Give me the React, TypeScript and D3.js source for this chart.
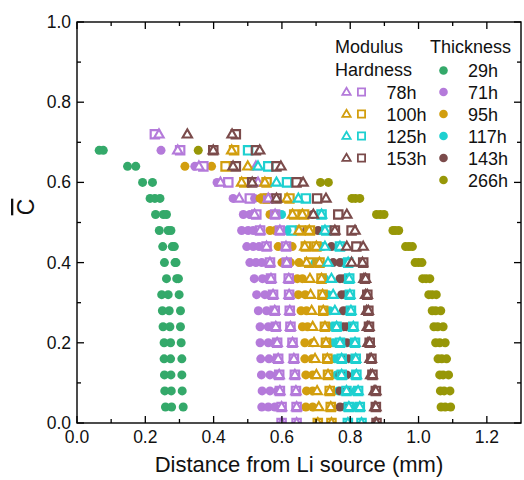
import React from "react";
import * as d3 from "d3";

type Row = [number, number[]];

// Thickness series (filled circles): [C, distances (mm)]
const thick29h: Row[] = [
  [0.68, [0.065, 0.077]], [0.64, [0.148, 0.172]], [0.6, [0.192, 0.221]],
  [0.56, [0.214, 0.228, 0.243]], [0.52, [0.23, 0.253, 0.262]], [0.48, [0.241, 0.267, 0.275]],
  [0.44, [0.251, 0.279, 0.285]], [0.4, [0.256, 0.287, 0.29]], [0.36, [0.262, 0.292, 0.297]],
  [0.32, [0.248, 0.267, 0.299]], [0.28, [0.25, 0.27, 0.303]], [0.24, [0.252, 0.272, 0.303]],
  [0.2, [0.255, 0.274, 0.305]], [0.16, [0.255, 0.274, 0.307]], [0.12, [0.256, 0.275, 0.307]],
  [0.08, [0.257, 0.276, 0.308]], [0.04, [0.259, 0.277, 0.311]],
];
const thick71h: Row[] = [
  [0.68, [0.246]], [0.64, [0.345]], [0.6, [0.41]], [0.56, [0.457, 0.52]],
  [0.52, [0.487, 0.506]], [0.48, [0.482, 0.501, 0.516]], [0.44, [0.497, 0.516, 0.533]],
  [0.4, [0.506, 0.524, 0.541]], [0.36, [0.519, 0.543, 0.56]], [0.32, [0.526, 0.55, 0.57]],
  [0.28, [0.531, 0.555, 0.575]], [0.24, [0.536, 0.56, 0.578]], [0.2, [0.536, 0.56, 0.58]],
  [0.16, [0.538, 0.562, 0.583]], [0.12, [0.54, 0.565, 0.585]], [0.08, [0.542, 0.565, 0.587]],
  [0.04, [0.541, 0.56, 0.579]],
];
const thick95h: Row[] = [
  [0.64, [0.316, 0.394]], [0.56, [0.536, 0.552]], [0.52, [0.565, 0.585]], [0.48, [0.565, 0.58]],
  [0.44, [0.589, 0.63]], [0.4, [0.6, 0.625, 0.65]], [0.36, [0.645, 0.66]], [0.32, [0.648, 0.668]],
  [0.28, [0.656, 0.672]], [0.24, [0.66, 0.675]], [0.2, [0.667, 0.69]], [0.16, [0.667, 0.688]],
  [0.12, [0.67, 0.69]], [0.08, [0.672, 0.69]], [0.04, [0.67, 0.69]],
];
const thick117h: Row[] = [
  [0.52, [0.599]], [0.48, [0.615]], [0.44, [0.72]], [0.4, [0.697, 0.78]], [0.36, [0.725, 0.79]],
  [0.32, [0.735, 0.79]], [0.28, [0.74, 0.795]], [0.24, [0.745, 0.8]], [0.2, [0.75, 0.805]],
  [0.16, [0.755, 0.81]], [0.12, [0.76, 0.812]], [0.08, [0.765, 0.815]], [0.04, [0.79, 0.815]],
];
const thick143h: Row[] = [
  [0.52, [0.69]], [0.48, [0.672, 0.706]], [0.44, [0.745]], [0.4, [0.75, 0.77]], [0.36, [0.77, 0.78]],
  [0.32, [0.775, 0.785]], [0.28, [0.78, 0.79]], [0.24, [0.78, 0.79]], [0.2, [0.78, 0.79]],
  [0.16, [0.78, 0.795]], [0.12, [0.77, 0.79]], [0.08, [0.77, 0.79]], [0.04, [0.77, 0.785]],
];
const thick266h: Row[] = [
  [0.68, [0.355]], [0.6, [0.713, 0.736]], [0.56, [0.805, 0.815, 0.828]], [0.52, [0.877, 0.888, 0.899]],
  [0.48, [0.925, 0.932, 0.942]], [0.44, [0.962, 0.972, 0.982]], [0.4, [0.99, 1.0, 1.01]],
  [0.36, [1.012, 1.022, 1.033]], [0.32, [1.03, 1.04, 1.052]], [0.28, [1.04, 1.05, 1.065]],
  [0.24, [1.045, 1.056, 1.072]], [0.2, [1.05, 1.062, 1.078]], [0.16, [1.057, 1.068, 1.082]],
  [0.12, [1.062, 1.072, 1.088]], [0.08, [1.064, 1.075, 1.092]], [0.04, [1.066, 1.078, 1.094]],
];

// Modulus (open triangles) and Hardness (open squares)
const mod78h: Row[] = [
  [0.72, [0.24]], [0.68, [0.295]], [0.64, [0.357, 0.524]], [0.6, [0.42, 0.53]], [0.56, [0.475, 0.56]],
  [0.52, [0.52, 0.58]], [0.48, [0.536, 0.594]], [0.44, [0.555, 0.612]], [0.4, [0.565, 0.614]],
  [0.36, [0.568, 0.62]], [0.32, [0.574, 0.621]], [0.28, [0.579, 0.623]], [0.24, [0.582, 0.625]],
  [0.2, [0.586, 0.631]], [0.16, [0.589, 0.635]], [0.12, [0.592, 0.638]], [0.08, [0.594, 0.641]],
  [0.04, [0.599, 0.643]], [0.0, [0.599, 0.643]],
];
const hard78h: Row[] = [
  [0.72, [0.228]], [0.68, [0.302]], [0.64, [0.37]], [0.6, [0.443]], [0.56, [0.506, 0.56]],
  [0.52, [0.525, 0.58]], [0.48, [0.536, 0.594]], [0.44, [0.555, 0.612]], [0.4, [0.565, 0.614]],
  [0.36, [0.568, 0.62]], [0.32, [0.574, 0.621]], [0.28, [0.579, 0.623]], [0.24, [0.582, 0.625]],
  [0.2, [0.586, 0.631]], [0.16, [0.589, 0.635]], [0.12, [0.592, 0.638]], [0.08, [0.594, 0.641]],
  [0.04, [0.599, 0.643]], [0.0, [0.599, 0.643]],
];
const mod100h: Row[] = [
  [0.68, [0.453]], [0.64, [0.5]], [0.6, [0.482, 0.55]], [0.56, [0.615]], [0.52, [0.631, 0.66]],
  [0.48, [0.65, 0.68]], [0.44, [0.667, 0.701]], [0.4, [0.672, 0.71]], [0.36, [0.682, 0.716]],
  [0.32, [0.684, 0.719]], [0.28, [0.687, 0.721]], [0.24, [0.69, 0.726]], [0.2, [0.694, 0.729]],
  [0.16, [0.697, 0.733]], [0.12, [0.701, 0.735]], [0.08, [0.703, 0.74]], [0.04, [0.708, 0.743]],
  [0.0, [0.705, 0.745]],
];
const hard100h: Row[] = [
  [0.68, [0.46]], [0.64, [0.435]], [0.6, [0.49, 0.555]], [0.56, [0.55, 0.622]], [0.52, [0.636, 0.665]],
  [0.48, [0.655, 0.682]], [0.44, [0.67, 0.701]], [0.4, [0.68, 0.71]], [0.36, [0.716]], [0.32, [0.719]],
  [0.28, [0.721]], [0.24, [0.726]], [0.2, [0.729]], [0.16, [0.733]], [0.12, [0.735]], [0.08, [0.74]],
  [0.04, [0.743]], [0.0, [0.705, 0.745]],
];
const mod125h: Row[] = [
  [0.64, [0.53]], [0.6, [0.584]], [0.56, [0.648]], [0.52, [0.716]], [0.48, [0.726]], [0.44, [0.726, 0.77]],
  [0.4, [0.735, 0.794]], [0.36, [0.745, 0.797]], [0.32, [0.75, 0.799]], [0.28, [0.755, 0.802]],
  [0.24, [0.76, 0.809]], [0.2, [0.77, 0.814]], [0.16, [0.775, 0.816]], [0.12, [0.775, 0.818]],
  [0.08, [0.789, 0.823]], [0.04, [0.796, 0.828]], [0.0, [0.793, 0.833]],
];
const hard125h: Row[] = [
  [0.68, [0.501]], [0.64, [0.56]], [0.6, [0.615]], [0.56, [0.67]], [0.52, [0.716]], [0.48, [0.628, 0.73]],
  [0.44, [0.77]], [0.4, [0.794]], [0.36, [0.797]], [0.32, [0.799]], [0.28, [0.802]], [0.24, [0.76, 0.809]],
  [0.2, [0.77, 0.814]], [0.16, [0.775, 0.816]], [0.12, [0.775, 0.818]], [0.08, [0.789, 0.823]],
  [0.04, [0.796, 0.828]], [0.0, [0.793, 0.833]],
];
const mod153h: Row[] = [
  [0.72, [0.323, 0.454]], [0.68, [0.399, 0.535]], [0.64, [0.457, 0.597]], [0.6, [0.513, 0.662]],
  [0.56, [0.584, 0.729]], [0.52, [0.692, 0.79]], [0.48, [0.755, 0.814]], [0.44, [0.79, 0.838]],
  [0.4, [0.804, 0.836]], [0.36, [0.84, 0.845]], [0.32, [0.845, 0.85]], [0.28, [0.848, 0.853]],
  [0.24, [0.85, 0.855]], [0.2, [0.852, 0.857]], [0.16, [0.858, 0.862]], [0.12, [0.86, 0.865]],
  [0.08, [0.87, 0.875]], [0.04, [0.872, 0.875]], [0.0, [0.873, 0.877]],
];
const hard153h: Row[] = [
  [0.72, [0.465]], [0.68, [0.399, 0.524]], [0.64, [0.465, 0.584]], [0.6, [0.513, 0.643]],
  [0.56, [0.584, 0.703]], [0.52, [0.765]], [0.48, [0.755, 0.804]], [0.44, [0.818]], [0.4, [0.838]],
  [0.36, [0.843]], [0.32, [0.85]], [0.28, [0.853]], [0.24, [0.855]], [0.2, [0.857]], [0.16, [0.862]],
  [0.12, [0.865]], [0.08, [0.875]], [0.04, [0.875]], [0.0, [0.877]],
];

const thicknessLabels = ["29h", "71h", "95h", "117h", "143h", "266h"];
const thicknessColors = ["#34a96a", "#b47ada", "#d29e0e", "#1ed0d0", "#7b4b4b", "#979707"];
const thicknessData = [thick29h, thick71h, thick95h, thick117h, thick143h, thick266h];

const mhLabels = ["78h", "100h", "125h", "153h"];
const mhColors = ["#b47ada", "#d29e0e", "#1ed0d0", "#7b4b4b"];
const modulusData = [mod78h, mod100h, mod125h, mod153h];
const hardnessData = [hard78h, hard100h, hard125h, hard153h];

const xTicks = [0, 0.2, 0.4, 0.6, 0.8, 1.0, 1.2];
const yTicks = [0, 0.2, 0.4, 0.6, 0.8, 1.0];

const W = 524;
const H = 480;
const FONT = "'Liberation Sans', Arial, Helvetica, sans-serif";

const x = d3.scaleLinear().domain([0, 1.3]).range([77, 521]);
const y = d3.scaleLinear().domain([0, 1]).range([423, 22]);

const triPath = d3.symbol(d3.symbolTriangle, 38)()!;
const sqPath = d3.symbol(d3.symbolSquare, 70)()!;
const triLeg = d3.symbol(d3.symbolTriangle, 30)()!;
const sqLeg = d3.symbol(d3.symbolSquare, 52)()!;

function flatten(rows: Row[]) {
  const pts: { d: number; c: number }[] = [];
  rows.forEach(([c, ds]) => ds.forEach((d) => pts.push({ d, c })));
  return pts;
}

export default function App() {
  const [x0, x1] = x.range();
  const [y0, y1] = y.range();
  const xMinor = d3.range(1, 13).map((i) => i / 10);
  const yMinor = d3.range(1, 10).map((i) => i / 10);
  const fmt = d3.format(".1f");
  const legRows = [70.5, 92, 114, 136, 158, 180];

  return (
    <svg width={W} height={H} style={{ position: "absolute", left: 0, top: 0, background: "#fff" }}
      fontFamily={FONT}>
      <defs>
        <clipPath id="plotclip">
          <rect x={x0} y={y1} width={x1 - x0} height={y0 - y1} />
        </clipPath>
      </defs>

      <g clipPath="url(#plotclip)">
        {thicknessData.map((rows, si) => (
          <g key={"t" + si} fill={thicknessColors[si]}>
            {flatten(rows).map((p, i) => (
              <circle key={i} cx={x(p.d)} cy={y(p.c)} r={4.5} />
            ))}
          </g>
        ))}
        {hardnessData.map((rows, si) => (
          <g key={"h" + si} fill="none" stroke={mhColors[si]} strokeWidth={2.2}>
            {flatten(rows).map((p, i) => (
              <path key={i} d={sqPath} transform={`translate(${x(p.d)},${y(p.c)})`} />
            ))}
          </g>
        ))}
        {modulusData.map((rows, si) => (
          <g key={"m" + si} fill="#fff" stroke={mhColors[si]} strokeWidth={2.1}>
            {flatten(rows).map((p, i) => (
              <path key={i} d={triPath} transform={`translate(${x(p.d)},${y(p.c) + 0.5})`} />
            ))}
          </g>
        ))}
      </g>

      {/* frame */}
      <rect x={x0} y={y1} width={x1 - x0} height={y0 - y1} fill="none" stroke="#000" strokeWidth={1.4} />

      {/* ticks */}
      <g stroke="#000" strokeWidth={1.3}>
        {xTicks.map((t) => (
          <g key={"xt" + t}>
            <line x1={x(t)} x2={x(t)} y1={y0} y2={y0 - 7} />
            <line x1={x(t)} x2={x(t)} y1={y1} y2={y1 + 7} />
          </g>
        ))}
        {xMinor.filter((t) => Math.round(t * 10) % 2 === 1).map((t) => (
          <g key={"xm" + t}>
            <line x1={x(t)} x2={x(t)} y1={y0} y2={y0 - 4} />
            <line x1={x(t)} x2={x(t)} y1={y1} y2={y1 + 4} />
          </g>
        ))}
        {yTicks.map((t) => (
          <g key={"yt" + t}>
            <line x1={x0} x2={x0 + 7} y1={y(t)} y2={y(t)} />
            <line x1={x1} x2={x1 - 7} y1={y(t)} y2={y(t)} />
          </g>
        ))}
        {yMinor.filter((t) => Math.round(t * 10) % 2 === 1).map((t) => (
          <g key={"ym" + t}>
            <line x1={x0} x2={x0 + 4} y1={y(t)} y2={y(t)} />
            <line x1={x1} x2={x1 - 4} y1={y(t)} y2={y(t)} />
          </g>
        ))}
      </g>

      {/* tick labels */}
      <g fontSize={17.5} fill="#111">
        {xTicks.map((t) => (
          <text key={"xl" + t} x={x(t)} y={443} textAnchor="middle">{fmt(t)}</text>
        ))}
        {yTicks.map((t) => (
          <text key={"yl" + t} x={71} y={y(t) + 6} textAnchor="end">{fmt(t)}</text>
        ))}
      </g>

      {/* axis titles */}
      <text x={(x0 + x1) / 2} y={472} textAnchor="middle" fontSize={22} fill="#111">
        Distance from Li source (mm)
      </text>
      <text transform="translate(34,207) rotate(-90)" textAnchor="middle" fontSize={23} fill="#111"
        style={{ textDecoration: "overline" }}>
        C
      </text>

      {/* legend */}
      <g fontSize={18} fill="#111">
        <text x={335} y={53}>Modulus</text>
        <text x={430} y={53}>Thickness</text>
        <text x={335} y={76}>Hardness</text>
        {mhLabels.map((lab, i) => (
          <g key={"lm" + i}>
            <path d={triLeg} transform={`translate(346.5,${legRows[i + 1] + 0.5})`} fill="#fff"
              stroke={mhColors[i]} strokeWidth={1.8} />
            <path d={sqLeg} transform={`translate(361.5,${legRows[i + 1]})`} fill="#fff"
              stroke={mhColors[i]} strokeWidth={1.8} />
            <text x={386.5} y={legRows[i + 1] + 6.5}>{lab}</text>
          </g>
        ))}
        {thicknessLabels.map((lab, i) => (
          <g key={"lt" + i}>
            <circle cx={443.5} cy={legRows[i]} r={4.3} fill={thicknessColors[i]} />
            <text x={468} y={legRows[i] + 6.5}>{lab}</text>
          </g>
        ))}
      </g>
    </svg>
  );
}
